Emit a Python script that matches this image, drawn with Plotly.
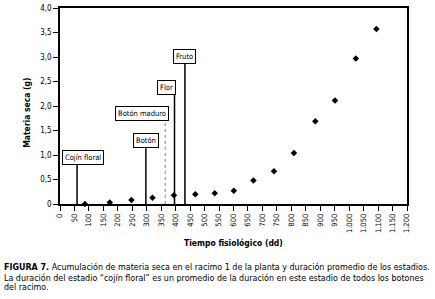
import plotly.graph_objects as go

# Data
tiempo = [86, 172, 247, 320, 394, 468, 535, 601, 669, 740, 809, 883, 951, 1023, 1094]
materia_seca = [0.0, 0.03, 0.08, 0.13, 0.18, 0.20, 0.22, 0.27, 0.48, 0.67, 1.04, 1.69, 2.11, 2.97, 3.57]

estadios = ["Cojín floral", "Botón", "Botón maduro", "Flor", "Fruto"]
estadio_fin = [59, 297, 364, 396, 432]  # duración promedio (dd)

x_ticks = list(range(0, 1201, 50))
x_ticklabels = [f"{v:,}".replace(",", ".") for v in x_ticks]
y_ticks = [0, 0.5, 1.0, 1.5, 2.0, 2.5, 3.0, 3.5, 4.0]
y_ticklabels = ["0", "0,5", "1,0", "1,5", "2,0", "2,5", "3,0", "3,5", "4,0"]

caption_lines = [
    "<b>FIGURA 7.</b> Acumulación de materia seca en el racimo 1 de la planta y duración promedio de los estadios.",
    "La duración del estadio “cojín floral” es un promedio de la duración en este estadio de todos los botones",
    "del racimo.",
]

# Layout parameters for the stage label boxes (positions only)
box_x = [81, 299, 285, 369, 432]
box_y = [0.95, 1.30, 1.85, 2.37, 3.01]
line_top = [0.80, 1.14, 1.70, 2.23, 2.86]
line_style = ["solid", "solid", "dot", "solid", "solid"]
line_color = ["black", "black", "#999999", "black", "black"]

FONT = "Liberation Sans Narrow, DejaVu Sans Condensed, Arial Narrow, Liberation Sans, sans-serif"

fig = go.Figure()
fig.add_trace(go.Scatter(
    x=tiempo, y=materia_seca, mode="markers",
    marker=dict(symbol="diamond", size=5, color="black"),
    showlegend=False, cliponaxis=False,
))

for i, name in enumerate(estadios):
    fig.add_shape(type="line", xref="x", yref="y",
                  x0=estadio_fin[i], x1=estadio_fin[i], y0=0, y1=line_top[i],
                  line=dict(color=line_color[i], width=1.5 if line_style[i] == "solid" else 1.2,
                            dash=line_style[i]))
    fig.add_annotation(x=box_x[i], y=box_y[i], xref="x", yref="y",
                       text=name, showarrow=False,
                       font=dict(family=FONT, size=7.5, color="black"),
                       bgcolor="white", bordercolor="black", borderwidth=1, borderpad=2)

caption_y = [-0.323, -0.377, -0.425]
for txt, cy in zip(caption_lines, caption_y):
    fig.add_annotation(
        xref="paper", yref="paper", x=0, xshift=-58, y=cy, xanchor="left", yanchor="middle",
        align="left", showarrow=False, text=txt,
        font=dict(family=FONT, size=8.9, color="black"),
    )

# Axis titles
fig.add_annotation(xref="paper", yref="paper", x=0.5, y=-0.2, xanchor="center", yanchor="middle",
                   showarrow=False, text="<b>Tiempo fisiológico (dd)</b>",
                   font=dict(family=FONT, size=8.5, color="black"))
fig.add_annotation(xref="paper", yref="paper", x=0, xshift=-33, y=0.465, xanchor="center", yanchor="middle",
                   showarrow=False, text="<b>Materia seca (g)</b>", textangle=-90,
                   font=dict(family=FONT, size=8.5, color="black"))

fig.update_xaxes(
    range=[0, 1200], tickvals=x_ticks, ticktext=x_ticklabels, tickangle=-90,
    ticks="outside", ticklen=5, tickwidth=1, tickcolor="black",
    showline=True, linecolor="black", linewidth=1.5, mirror=True,
    showgrid=False, zeroline=False, automargin=False,
    tickfont=dict(family=FONT, size=7.5, color="black"),
)
fig.update_yaxes(
    range=[0, 4], tickvals=y_ticks, ticktext=y_ticklabels,
    ticks="outside", ticklen=5, tickwidth=1, tickcolor="black",
    showline=True, linecolor="black", linewidth=1.5, mirror=True,
    showgrid=False, zeroline=False, automargin=False,
    tickfont=dict(family=FONT, size=8, color="black"),
)

fig.update_layout(
    width=435, height=299,
    margin=dict(l=60, r=28, t=8, b=95),
    plot_bgcolor="white", paper_bgcolor="white",
    font=dict(family=FONT, color="black"),
)

fig.write_html("out.html", config={"displayModeBar": False},
               post_script="document.body.style.margin='0';")
